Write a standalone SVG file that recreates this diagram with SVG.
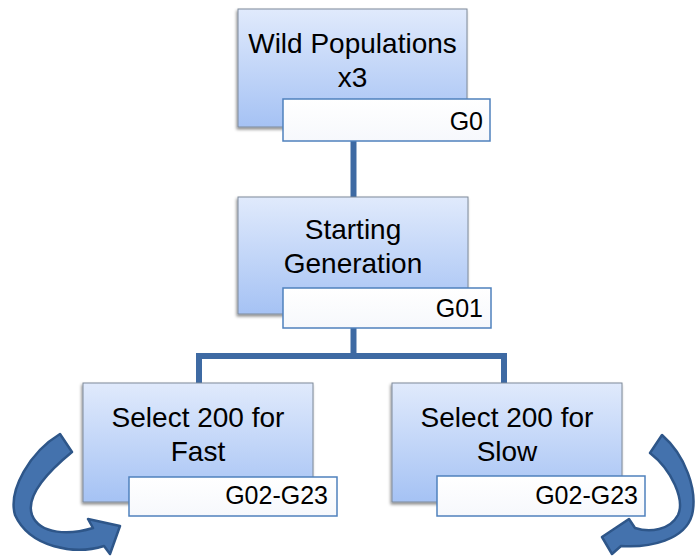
<svg xmlns="http://www.w3.org/2000/svg" width="697" height="556" viewBox="0 0 697 556">
<defs>
<linearGradient id="boxg" x1="0" y1="0" x2="0" y2="1">
<stop offset="0" stop-color="#e0eafc"/>
<stop offset="1" stop-color="#a5c2f4"/>
</linearGradient>
<linearGradient id="labg" x1="0" y1="0" x2="0" y2="1">
<stop offset="0" stop-color="#ffffff"/>
<stop offset="1" stop-color="#f6f8fc"/>
</linearGradient>
<filter id="sh" x="-10%" y="-10%" width="120%" height="125%">
<feDropShadow dx="-1" dy="2" stdDeviation="1.5" flood-color="#000" flood-opacity="0.45"/>
</filter>
</defs>
<style>
.box{fill:url(#boxg);stroke:#7f8a99;stroke-width:1;filter:url(#sh)}
.lab{fill:url(#labg);stroke:#4f81bd;stroke-width:1.5}
.t{font-family:"Liberation Sans",Arial,sans-serif;font-size:28px;fill:#000;text-anchor:middle}
.lt{font-family:"Liberation Sans",Arial,sans-serif;font-size:25px;fill:#000;text-anchor:end}
.conn{stroke:#3e6aa3;stroke-width:6;fill:none}
.arr{fill:#4472ad;stroke:#2e5689;stroke-width:2.5;stroke-linejoin:round}
</style>
<rect width="697" height="556" fill="#fff"/>
<g id="connectors">
<line class="conn" x1="353.5" y1="141" x2="353.5" y2="197"/>
<polyline class="conn" points="199,383 199,356 504,356 504,383"/>
<line class="conn" x1="353.5" y1="328" x2="353.5" y2="356"/>
</g>
<g id="node-wild">
<rect class="box" x="238" y="9" width="229" height="118"/>
<text class="t" x="352.5" y="53">Wild Populations</text>
<text class="t" x="352.5" y="87">x3</text>
<rect class="lab" x="283" y="99" width="207" height="42"/>
<text class="lt" x="483" y="130">G0</text>
</g>
<g id="node-start">
<rect class="box" x="238" y="197" width="230" height="117"/>
<text class="t" x="353" y="239">Starting</text>
<text class="t" x="353" y="273">Generation</text>
<rect class="lab" x="283" y="288" width="208" height="40"/>
<text class="lt" x="483" y="317">G01</text>
</g>
<g id="node-fast">
<rect class="box" x="83" y="383" width="230" height="119"/>
<text class="t" x="198" y="427">Select 200 for</text>
<text class="t" x="198" y="461">Fast</text>
<rect class="lab" x="129" y="477" width="208" height="39"/>
<text class="lt" x="328" y="504">G02-G23</text>
</g>
<g id="node-slow">
<rect class="box" x="392" y="383" width="230" height="119"/>
<text class="t" x="507" y="427">Select 200 for</text>
<text class="t" x="507" y="461">Slow</text>
<rect class="lab" x="437" y="476" width="208" height="40"/>
<text class="lt" x="638" y="504">G02-G23</text>
</g>
<g id="arrow-left">
<path class="arr" d="M60,434 L72,452 C50,470 25,495 32,515 C40,535 70,535 93,528 L88,519 L120,526 L110,554 L104,546 C75,555 30,548 15,515 C8,490 30,452 60,434 Z"/>
</g>
<g id="arrow-right">
<path class="arr" d="M662,435 L650,453 C672,470 685,500 678,515 C670,530 650,533 635,528 L629,519 L602,537 L612,554 L621,546 C650,548 685,540 692,515 C698,490 685,455 662,435 Z"/>
</g>
</svg>
